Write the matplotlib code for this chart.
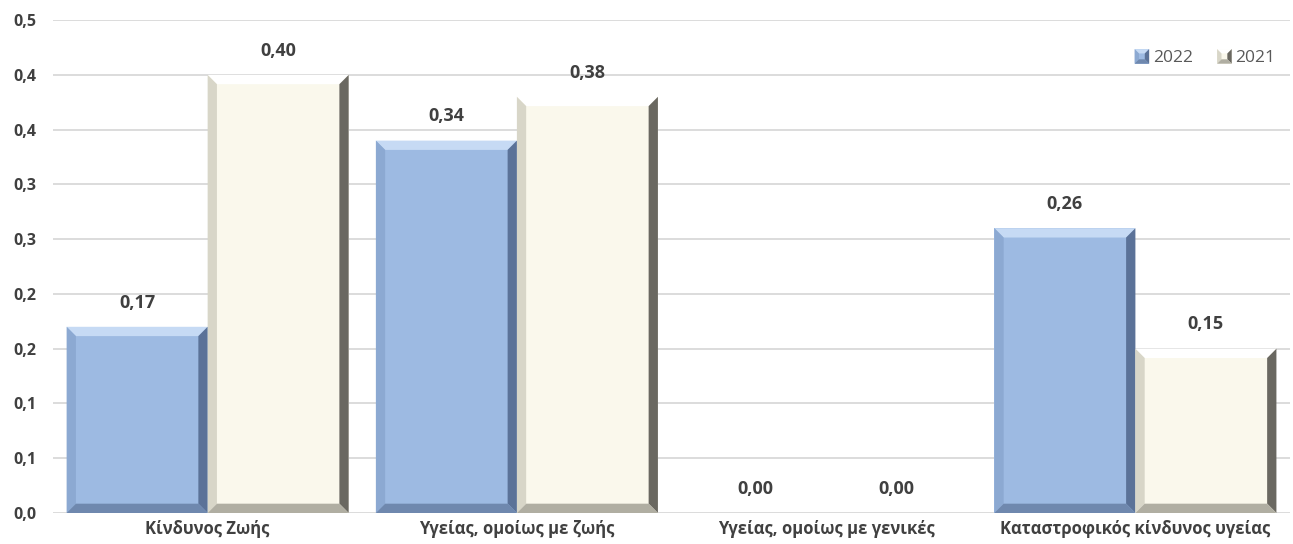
import matplotlib
matplotlib.use("Agg")
import matplotlib.pyplot as plt
from matplotlib.patches import Polygon, Patch
from matplotlib.legend_handler import HandlerBase
import numpy as np

plt.rcParams['font.family'] = ['Open Sans', 'DejaVu Sans']

categories = ["Κίνδυνος Ζωής", "Υγείας, ομοίως με ζωής",
              "Υγείας, ομοίως με γενικές", "Καταστροφικός κίνδυνος υγείας"]
series_names = ["2022", "2021"]
values_2022 = [0.17, 0.34, 0.00, 0.26]
values_2021 = [0.40, 0.38, 0.00, 0.15]
ytick_values = [0.0, 0.05, 0.10, 0.15, 0.20, 0.25, 0.30, 0.35, 0.40, 0.45]
ytick_labels = ["0,0", "0,1", "0,1", "0,2", "0,2", "0,3", "0,3", "0,4", "0,4", "0,5"]

styles = {
    "2022": dict(face="#9DBAE2", top="#C6DAF4", left="#8CA9D2", right="#5B7298", bottom="#6F88AE"),
    "2021": dict(face="#FAF8EC", top="#FFFFFF", left="#D8D6C8", right="#6A6861", bottom="#B0AEA2"),
}

fig = plt.figure(figsize=(12.93, 5.44), dpi=100)
ax = fig.add_axes([0.041, 0.057, 0.9567, 0.906])
ax.set_xlim(-0.5, 3.5)
ax.set_ylim(0, 0.45)

x = np.arange(len(categories))
width = 0.456
dx = 0.03
dy = 0.0085

def bevel_bar(xc, h, st):
    if h <= 0:
        return
    x0, x1 = xc - width / 2, xc + width / 2
    ax.bar(xc, h, width=width, color=st["face"], zorder=2, linewidth=0)
    d_y = min(dy, h / 2)
    polys = [
        ([(x0, h), (x1, h), (x1 - dx, h - d_y), (x0 + dx, h - d_y)], st["top"]),
        ([(x0, 0), (x0, h), (x0 + dx, h - d_y), (x0 + dx, d_y)], st["left"]),
        ([(x1, 0), (x1, h), (x1 - dx, h - d_y), (x1 - dx, d_y)], st["right"]),
        ([(x0, 0), (x1, 0), (x1 - dx, d_y), (x0 + dx, d_y)], st["bottom"]),
    ]
    for pts, c in polys:
        ax.add_patch(Polygon(pts, closed=True, facecolor=c, edgecolor='none', zorder=3))

for name, vals, off in [("2022", values_2022, -width / 2), ("2021", values_2021, width / 2)]:
    for xi, v in zip(x, vals):
        bevel_bar(xi + off, v, styles[name])
        ax.annotate(f"{v:.2f}".replace(".", ","), (xi + off, v), xytext=(0, 11),
                    textcoords="offset points", ha="center", va="bottom",
                    fontsize=13, fontweight="bold", color="#404040", zorder=5)

ax.set_yticks(ytick_values)
ax.set_yticklabels(ytick_labels)
ax.set_xticks(x)
ax.set_xticklabels(categories)
ax.tick_params(axis='both', length=0, labelcolor="#404040")
ax.tick_params(axis='y', pad=12)
ax.tick_params(axis='x', pad=5)
for lab in ax.get_yticklabels():
    lab.set_fontweight("bold")
    lab.set_fontsize(11.5)
for lab in ax.get_xticklabels():
    lab.set_fontweight("bold")
    lab.set_fontsize(12)
ax.grid(axis='y', color="#D9D9D9", linewidth=1.3, zorder=0)
ax.set_axisbelow(True)
for s in ax.spines.values():
    s.set_visible(False)

class BevelHandler(HandlerBase):
    def create_artists(self, legend, orig_handle, xdescent, ydescent, width_, height_, fontsize, trans):
        st = orig_handle.st
        s = min(width_, height_ * 1.1)
        x0 = xdescent + width_ - s
        y0 = -ydescent + (height_ - s) / 2
        x1, y1 = x0 + s, y0 + s
        e = s * 0.3
        arts = []
        arts.append(Polygon([(x0, y0), (x1, y0), (x1, y1), (x0, y1)], facecolor=st["face"], edgecolor='none', transform=trans))
        arts.append(Polygon([(x0, y1), (x1, y1), (x1 - e, y1 - e), (x0 + e, y1 - e)], facecolor=st["top"], edgecolor='none', transform=trans))
        arts.append(Polygon([(x0, y0), (x0, y1), (x0 + e, y1 - e), (x0 + e, y0 + e)], facecolor=st["left"], edgecolor='none', transform=trans))
        arts.append(Polygon([(x1, y0), (x1, y1), (x1 - e, y1 - e), (x1 - e, y0 + e)], facecolor=st["right"], edgecolor='none', transform=trans))
        arts.append(Polygon([(x0, y0), (x1, y0), (x1 - e, y0 + e), (x0 + e, y0 + e)], facecolor=st["bottom"], edgecolor='none', transform=trans))
        return arts

handles = []
for name in series_names:
    p = Patch()
    p.st = styles[name]
    handles.append(p)
leg = ax.legend(handles, series_names, handler_map={Patch: BevelHandler()},
                loc="center right", bbox_to_anchor=(0.988, 0.923), ncol=2, frameon=False,
                fontsize=12.5, handlelength=0.85, handleheight=0.8, handletextpad=0.2,
                columnspacing=1.4, borderpad=0, borderaxespad=0)
for t in leg.get_texts():
    t.set_color("#595959")

fig.savefig("out.png", dpi=100)
